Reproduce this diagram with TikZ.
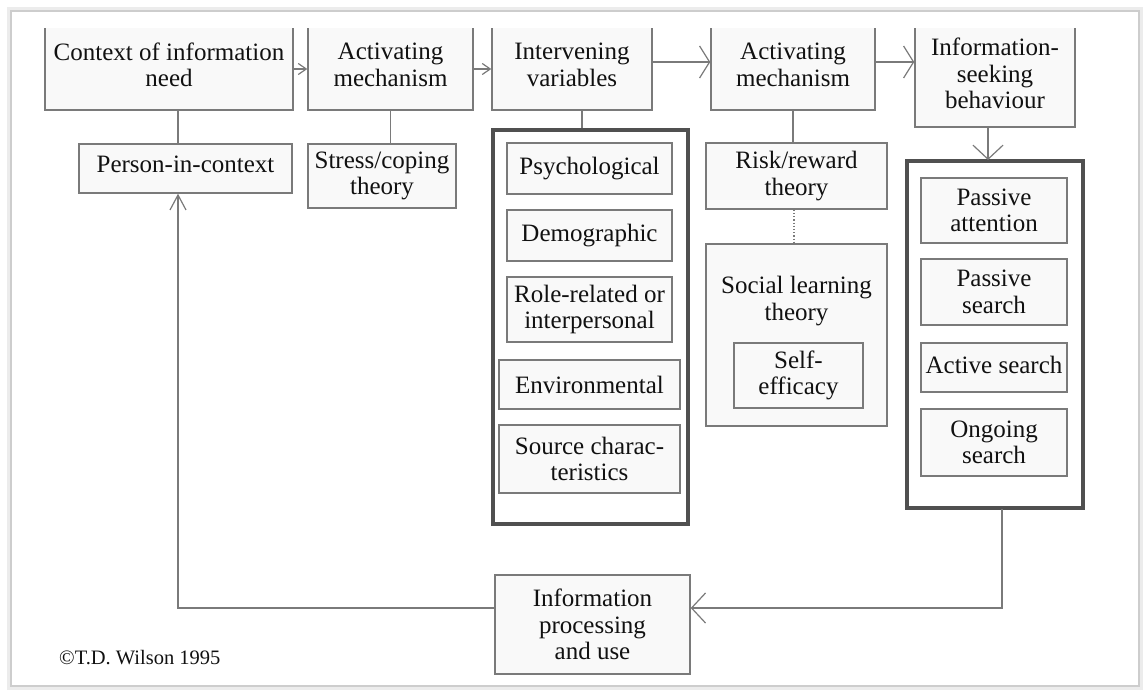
\documentclass[tikz,border=0pt]{standalone}
\usepackage{fontspec}
\setmainfont{Liberation Serif}
\usetikzlibrary{arrows.meta}
\definecolor{bordc}{HTML}{7A7A7A}
\definecolor{thickc}{HTML}{505050}
\definecolor{boxfill}{HTML}{F9F9F9}
\definecolor{txtc}{HTML}{111111}
\definecolor{framec}{HTML}{CDCDCD}
\definecolor{shadc}{HTML}{ECECEC}
\tikzset{
  box/.style={draw=bordc, fill=boxfill, line width=1.4pt, text=txtc, align=center,
    inner sep=0pt, font=\fontsize{25}{26.5}\selectfont},
  bigbox/.style={draw=thickc, fill=white, line width=4pt, inner sep=0pt},
  conn/.style={draw=bordc, line width=1.4pt},
  arrsmall/.style={conn, -{Straight Barb[length=8pt, width=11pt, line width=1.2pt]}},
  arrtall/.style={conn, -{Straight Barb[length=10pt, width=32pt, line width=1.2pt]}},
  arrbig/.style={conn, -{Straight Barb[length=14pt, width=30pt, line width=1.2pt]}},
  arrmid/.style={conn, -{Straight Barb[length=15pt, width=16pt, line width=1.2pt]}},
}
\begin{document}
\begin{tikzpicture}[x=1pt,y=-1pt]
\useasboundingbox (0,0) rectangle (1144,693);
\fill[white] (0,0) rectangle (1144,693);
% outer frame with soft shadow
\draw[shadc, line width=4pt] (9,9) rectangle (1141,688);
\draw[framec, line width=1.5pt] (11,11) rectangle (1139,686);

% helper x positions
\coordinate (xa) at (178,0);
\coordinate (xb) at (582,0);
\coordinate (xs) at (988,0);
\coordinate (xo) at (1002,0);
\coordinate (xr) at (794,0);

% top row (cut off at the top)
\begin{scope}
\clip (0,29) rectangle (1144,693);
\node[box, minimum width=248pt, minimum height=90pt] (ctx) at (169,65) {Context of information\\need};
\node[box, minimum width=165pt, minimum height=90pt] (act1) at (390.5,65) {Activating\\mechanism};
\node[box, minimum width=160pt, minimum height=90pt] (intv) at (572,65) {Intervening\\variables};
\node[box, minimum width=164pt, minimum height=90pt] (act2) at (793,65) {Activating\\mechanism};
\node[box, minimum width=160pt, minimum height=107pt] (isb) at (995,73.5) {Information-\\seeking\\behaviour};
\end{scope}

% second row
\node[box, minimum width=213pt, minimum height=49pt] (person) at (185.5,168.5) {\raisebox{8pt}{Person-in-context}};
\node[box, minimum width=148pt, minimum height=64pt] (stress) at (382,176) {Stress/coping\\theory};

% intervening variables group
\node[bigbox, minimum width=195pt, minimum height=394pt] (bigI) at (590.5,327) {};
\node[box, minimum width=165pt, minimum height=51pt] (psy) at (589.5,168.5) {Psychological};
\node[box, minimum width=165pt, minimum height=51pt] (dem) at (589.5,235.5) {Demographic};
\node[box, minimum width=165pt, minimum height=65pt] (role) at (589.5,309.5) {Role-related or\\interpersonal};
\node[box, minimum width=181pt, minimum height=49pt] (env) at (589.5,384.5) {\raisebox{-4pt}{Environmental}};
\node[box, minimum width=181pt, minimum height=68pt] (src) at (589.5,459) {Source charac-\\teristics};

% risk / social learning
\node[box, minimum width=181pt, minimum height=66pt] (risk) at (796.5,176) {Risk/reward\\theory};
\node[box, minimum width=181pt, minimum height=182pt] (social) at (796.5,335) {};
\node[text=txtc, align=center, inner sep=0pt, font=\fontsize{25}{26.5}\selectfont] (soctxt) at (796.5,301) {Social learning\\theory};
\node[box, minimum width=129pt, minimum height=65pt] (self) at (798.5,375.5) {Self-\\efficacy};

% information-seeking behaviour group
\node[bigbox, minimum width=176pt, minimum height=347pt] (bigS) at (995,334.5) {};
\node[box, minimum width=146pt, minimum height=65pt] (pa) at (994,210.5) {Passive\\attention};
\node[box, minimum width=146pt, minimum height=66pt] (ps) at (994,292) {Passive\\search};
\node[box, minimum width=146pt, minimum height=49pt] (as) at (994,367.5) {\raisebox{6pt}{Active search}};
\node[box, minimum width=146pt, minimum height=67pt] (og) at (994,442.5) {Ongoing\\search};

% information processing
\node[box, minimum width=195pt, minimum height=99pt] (ipu) at (592.5,624.5) {Information\\processing\\and use};

% copyright
\node[anchor=base west, inner sep=0pt, text=txtc, font=\fontsize{20.5}{23}\selectfont] (copy) at (59,664) {©T.D. Wilson 1995};

% horizontal arrows along the top row
\draw[arrsmall] ([yshift=-4pt]ctx.east) -- ([yshift=-4pt]act1.west);
\draw[arrsmall] ([yshift=-4pt]act1.east) -- ([yshift=-4pt]intv.west);
\draw[arrtall] ([yshift=3pt]intv.east) -- ([yshift=3pt]act2.west);
\draw[arrtall] ([yshift=3pt]act2.east) -- ([yshift=3pt]act2.east -| isb.west);

% vertical links
\draw[conn] (ctx.south -| xa) -- (person.north -| xa);
\draw[conn] (act1.south) -- (stress.north -| act1.south);
\draw[conn] (intv.south -| xb) -- (bigI.north -| xb);
\draw[conn] (act2.south) -- (risk.north -| act2.south);
\draw[bordc, line width=1.2pt, dotted] (risk.south -| xr) -- (social.north -| xr);
\draw[arrbig] (isb.south -| xs) -- ([yshift=-1pt]bigS.north -| xs);

% feedback loop
\draw[arrbig] ([yshift=1pt]bigS.south -| xo) |- ([yshift=16.5pt]ipu.east);
\draw[arrmid] ([yshift=16.5pt]ipu.west) -| (person.south -| xa);
\end{tikzpicture}
\end{document}
